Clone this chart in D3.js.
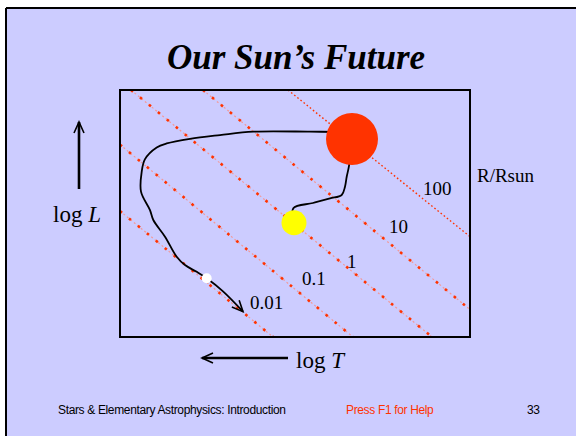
<html>
<head>
<meta charset="utf-8">
<style>
  body { margin: 0; background: #fff; }
  svg { display: block; }
</style>
</head>
<body>
<svg id="slide" width="576" height="436"></svg>
<script src="https://cdn.jsdelivr.net/npm/d3@7"></script>
<script>
    // constant-radius lines, R/Rsun, ends in (log T, log L)
    let radiusLabels = ["0.01", "0.1", "1", "10", "100"]
    let lineStart = [[5.5, 0.38], [5.5, 2.53], [5.39, 4.3], [4.67, 4.3], [3.82, 4.3]]
    let lineEnd = [[3.97, -3.7], [3.17, -3.7], [2.38, -3.7], [2.0, -2.81], [2.0, -0.45]]
    let labelAt = [[4.2, -2.79], [3.68, -2.02], [3.23, -1.47], [2.81, -0.33], [2.47, 0.90]]

    // the sun's track: main sequence -> red giant
    let climbLogT = [3.76, 3.767, 3.57, 3.40, 3.283, 3.25, 3.233, 3.21, 3.18]
    let climbLogL = [0.0, 0.47, 0.64, 0.79, 0.90, 1.17, 1.49, 1.84, 2.71]

    // red giant -> white dwarf
    let fallLogT = [3.30, 3.60, 4.167, 4.50, 4.80, 5.033, 5.133, 5.25, 5.283, 5.29, 5.20, 5.167, 5.05, 4.933, 4.85, 4.733, 4.633, 4.467, 4.27]
    let fallLogL = [2.94, 2.95, 2.95, 2.84, 2.72, 2.57, 2.44, 2.06, 1.65, 1.01, 0.41, 0.09, -0.45, -1.10, -1.37, -1.59, -1.80, -2.23, -2.88]

    let sun = [3.76, 0.0]
    let giant = [3.18, 2.71]
    let dwarf = [4.633, -1.80]

    let svg = d3.select("#slide")

    // slide background and border
    svg.append("rect").attr("x", 0).attr("y", 0).attr("width", 576).attr("height", 436).style("fill", "#fff")
    svg.append("rect").attr("x", 6).attr("y", 8).attr("width", 570).attr("height", 428).style("fill", "#ccccff")
    svg.append("line").attr("x1", 6).attr("y1", 8).attr("x2", 576).attr("y2", 8).style("stroke", "#000").style("stroke-width", 2)
    svg.append("line").attr("x1", 6).attr("y1", 8).attr("x2", 6).attr("y2", 436).style("stroke", "#000").style("stroke-width", 2)

    svg.append("text")
        .attr("x", 296).attr("y", 69)
        .attr("text-anchor", "middle")
        .style("font-family", "'Liberation Serif', 'Times New Roman', serif")
        .style("font-weight", "bold").style("font-style", "italic")
        .style("font-size", "35px")
        .text("Our Sun\u2019s Future")

    let x = d3.scaleLinear().domain([5.5, 2.0]).range([120, 470])
    let y = d3.scaleLinear().domain([-3.7, 4.3]).range([337, 90])

    let defs = svg.append("defs")
    defs.append("clipPath").attr("id", "box")
        .append("rect")
        .attr("x", x.range()[0]).attr("y", y.range()[1])
        .attr("width", x.range()[1] - x.range()[0])
        .attr("height", y.range()[0] - y.range()[1])

    defs.append("marker")
        .attr("id", "vee")
        .attr("viewBox", "-12 -7 14 14")
        .attr("refX", 0).attr("refY", 0)
        .attr("markerWidth", 14).attr("markerHeight", 14)
        .attr("markerUnits", "userSpaceOnUse")
        .attr("orient", "auto")
        .append("path")
        .attr("d", "M-11,-5 L0,0 L-11,5")
        .style("fill", "none").style("stroke", "#000").style("stroke-width", 1.6)

    let plot = svg.append("g").attr("clip-path", "url(#box)")

    let lines = radiusLabels.map((r, i) => ({ r: r, a: lineStart[i], b: lineEnd[i], at: labelAt[i] }))

    // pale dashes underneath, red dots on top
    plot.selectAll("line.pale")
        .data(lines.filter(d => d.r != "100"))
        .enter().append("line")
        .attr("class", "pale")
        .attr("x1", d => x(d.a[0])).attr("y1", d => y(d.a[1]))
        .attr("x2", d => x(d.b[0])).attr("y2", d => y(d.b[1]))
        .style("stroke", "#f29a9a").style("stroke-width", 1.2)
        .style("stroke-dasharray", "2,2.5")

    plot.selectAll("line.dots")
        .data(lines)
        .enter().append("line")
        .attr("class", "dots")
        .attr("x1", d => x(d.a[0])).attr("y1", d => y(d.a[1]))
        .attr("x2", d => x(d.b[0])).attr("y2", d => y(d.b[1]))
        .style("stroke", "#ff3300")
        .style("stroke-width", d => d.r == "100" ? 1.4 : 2.6)
        .style("stroke-dasharray", d => d.r == "100" ? "1.6,2.4" : "2.6,9")

    let track = d3.line().x(d => x(d[0])).y(d => y(d[1])).curve(d3.curveCatmullRom)

    plot.append("path")
        .datum(climbLogT.map((t, i) => [t, climbLogL[i]]))
        .attr("d", track)
        .style("fill", "none").style("stroke", "#000").style("stroke-width", 1.8)

    svg.append("path")
        .datum(fallLogT.map((t, i) => [t, fallLogL[i]]))
        .attr("d", track)
        .attr("marker-end", "url(#vee)")
        .style("fill", "none").style("stroke", "#000").style("stroke-width", 1.8)

    svg.append("circle").attr("cx", x(giant[0])).attr("cy", y(giant[1])).attr("r", 26).style("fill", "#ff3300")
    svg.append("circle").attr("cx", x(sun[0])).attr("cy", y(sun[1])).attr("r", 12.5).style("fill", "#ffff00")
    svg.append("circle").attr("cx", x(dwarf[0])).attr("cy", y(dwarf[1])).attr("r", 5).style("fill", "#fff")

    svg.append("rect")
        .attr("x", x.range()[0]).attr("y", y.range()[1])
        .attr("width", x.range()[1] - x.range()[0])
        .attr("height", y.range()[0] - y.range()[1])
        .style("fill", "none").style("stroke", "#000").style("stroke-width", 2)

    let serif = "'Liberation Serif', 'Times New Roman', serif"

    svg.selectAll("text.rlab")
        .data(lines)
        .enter().append("text")
        .attr("class", "rlab")
        .attr("x", d => x(d.at[0])).attr("y", d => y(d.at[1]))
        .style("font-family", serif).style("font-size", "19px")
        .text(d => d.r)

    svg.append("text")
        .attr("x", 477).attr("y", 182)
        .style("font-family", serif).style("font-size", "19px")
        .text("R/Rsun")

    // axis arrows
    let arrow = (x1, y1, x2, y2) => svg.append("line")
        .attr("x1", x1).attr("y1", y1).attr("x2", x2).attr("y2", y2)
        .attr("marker-end", "url(#vee)")
        .style("stroke", "#000").style("stroke-width", 2.6)

    arrow(79, 189, 79, 122)
    arrow(288, 358, 202, 358)

    let yLab = svg.append("text").attr("x", 53).attr("y", 222)
        .style("font-family", serif).style("font-size", "23px")
    yLab.append("tspan").text("log ")
    yLab.append("tspan").style("font-style", "italic").text("L")

    let xLab = svg.append("text").attr("x", 296).attr("y", 368)
        .style("font-family", serif).style("font-size", "23px")
    xLab.append("tspan").text("log ")
    xLab.append("tspan").style("font-style", "italic").text("T")

    // footer
    let sans = "'Liberation Sans', Arial, sans-serif"
    svg.append("text").attr("x", 58).attr("y", 414)
        .style("font-family", sans).style("font-size", "12px").style("letter-spacing", "-0.35px")
        .text("Stars & Elementary Astrophysics: Introduction")
    svg.append("text").attr("x", 346).attr("y", 414)
        .style("font-family", sans).style("font-size", "12px").style("letter-spacing", "-0.35px")
        .style("fill", "#ff3300")
        .text("Press F1 for Help")
    svg.append("text").attr("x", 527).attr("y", 414)
        .style("font-family", sans).style("font-size", "12px").style("letter-spacing", "-0.35px")
        .text("33")
</script>
</body>
</html>
